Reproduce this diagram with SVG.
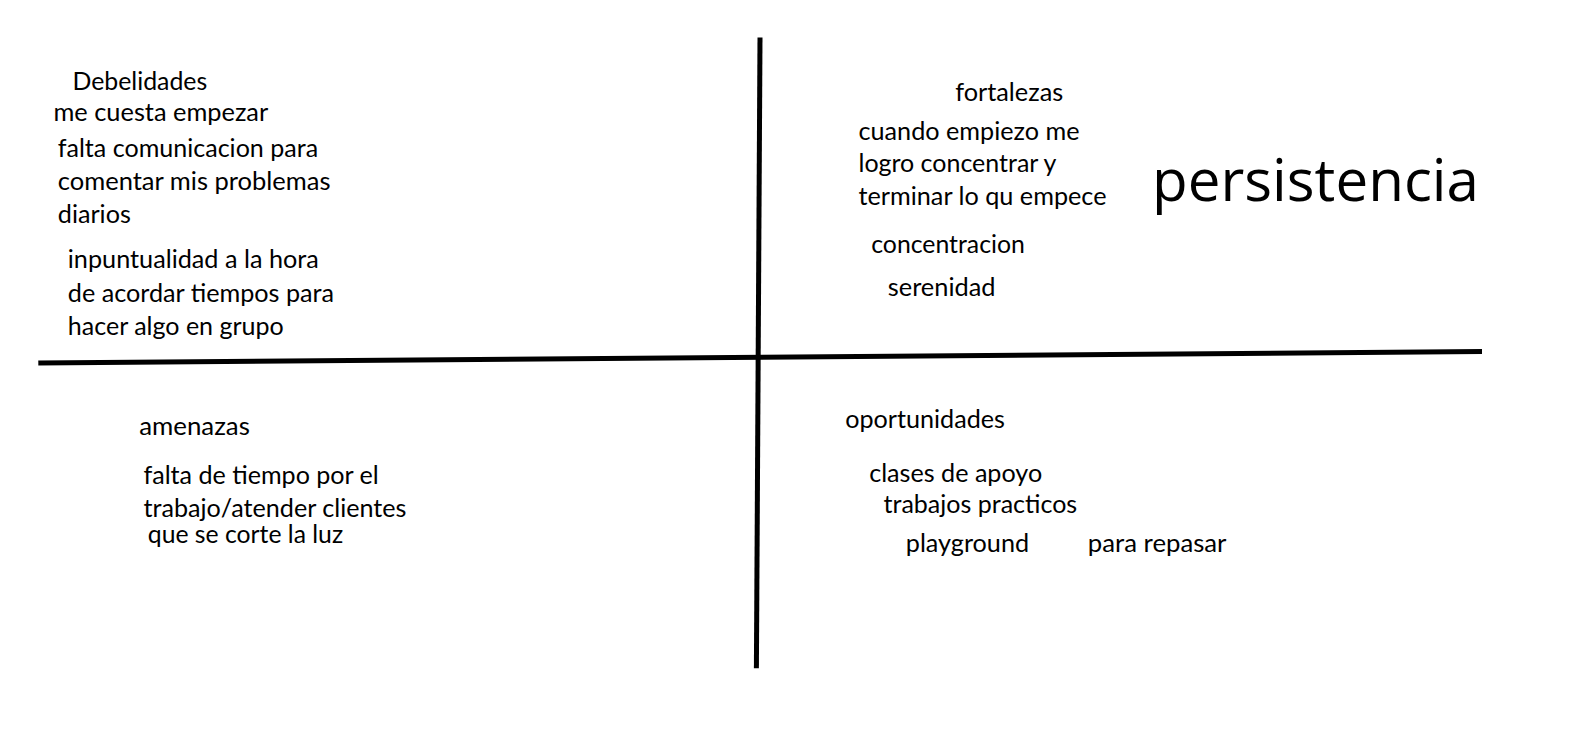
<svg xmlns="http://www.w3.org/2000/svg" width="1594" height="755" viewBox="0 0 1594 755">
<style>
.t{font-family:Lato,"Liberation Sans",sans-serif;font-size:24.5px;fill:#000}
.big{font-family:"Open Sans","Noto Sans",sans-serif;font-size:59px;fill:#000}
.ax{stroke:#000;stroke-width:5;fill:none;stroke-linecap:butt}
</style>
<rect width="1594" height="755" fill="#fff"/>
<g id="axes">
<line class="ax" x1="760" y1="37.5" x2="756.4" y2="668.3"/>
<line class="ax" x1="38.3" y1="363" x2="1482" y2="351.5"/>
</g>
<g id="debilidades">
<text class="t" x="72.5" y="90.3" textLength="134.7" lengthAdjust="spacingAndGlyphs">Debelidades</text>
<text class="t" x="53.5" y="121" textLength="214.7" lengthAdjust="spacingAndGlyphs">me cuesta empezar</text>
<text class="t" x="57.8" y="157.2" textLength="260.3" lengthAdjust="spacingAndGlyphs">falta comunicacion para</text>
<text class="t" x="57.8" y="189.8" textLength="272.7" lengthAdjust="spacingAndGlyphs">comentar mis problemas</text>
<text class="t" x="57.8" y="222.5" textLength="73" lengthAdjust="spacingAndGlyphs">diarios</text>
<text class="t" x="67.8" y="268.2" textLength="251" lengthAdjust="spacingAndGlyphs">inpuntualidad a la hora</text>
<text class="t" x="67.8" y="301.5" textLength="266.3" lengthAdjust="spacingAndGlyphs">de acordar tiempos para</text>
<text class="t" x="67.8" y="334.8" textLength="216" lengthAdjust="spacingAndGlyphs">hacer algo en grupo</text>
</g>
<g id="fortalezas">
<text class="t" x="955.2" y="100.8" textLength="108" lengthAdjust="spacingAndGlyphs">fortalezas</text>
<text class="t" x="858.5" y="139.8" textLength="221" lengthAdjust="spacingAndGlyphs">cuando empiezo me</text>
<text class="t" x="858.5" y="171.5" textLength="198" lengthAdjust="spacingAndGlyphs">logro concentrar y</text>
<text class="t" x="858.5" y="204.8" textLength="248" lengthAdjust="spacingAndGlyphs">terminar lo qu empece</text>
<text class="t" x="871.2" y="253.2" textLength="153.7" lengthAdjust="spacingAndGlyphs">concentracion</text>
<text class="t" x="887.8" y="295.5" textLength="107.7" lengthAdjust="spacingAndGlyphs">serenidad</text>
</g>
<g id="persistencia">
<text class="big" x="1152" y="201" textLength="327" lengthAdjust="spacingAndGlyphs">persistencia</text>
</g>
<g id="amenazas">
<text class="t" x="139.2" y="435" textLength="110.7" lengthAdjust="spacingAndGlyphs">amenazas</text>
<text class="t" x="143.5" y="483.8" textLength="235.3" lengthAdjust="spacingAndGlyphs">falta de tiempo por el</text>
<text class="t" x="143.5" y="517.2" textLength="263" lengthAdjust="spacingAndGlyphs">trabajo/atender clientes</text>
<text class="t" x="147.8" y="542.5" textLength="195.3" lengthAdjust="spacingAndGlyphs">que se corte la luz</text>
</g>
<g id="oportunidades">
<text class="t" x="845.2" y="427.8" textLength="159.7" lengthAdjust="spacingAndGlyphs">oportunidades</text>
<text class="t" x="869.2" y="482.2" textLength="173" lengthAdjust="spacingAndGlyphs">clases de apoyo</text>
<text class="t" x="883.5" y="513.2" textLength="193.7" lengthAdjust="spacingAndGlyphs">trabajos practicos</text>
<text class="t" x="905.8" y="552.3" textLength="123.3" lengthAdjust="spacingAndGlyphs">playground</text>
<text class="t" x="1087.8" y="552.3" textLength="138.7" lengthAdjust="spacingAndGlyphs">para repasar</text>
</g>
</svg>
